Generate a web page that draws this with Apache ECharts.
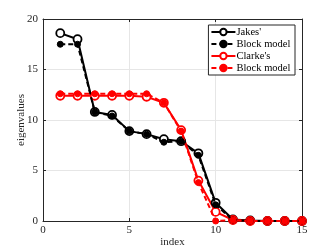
<!DOCTYPE html>
<html><head><meta charset="utf-8">
<script src="https://cdn.jsdelivr.net/npm/echarts@6/dist/echarts.min.js"></script>
<style>html,body{margin:0;padding:0;background:#fff}#c{width:333px;height:250px}</style>
</head><body><div id="c"></div>
<script>
var indices = [1,2,3,4,5,6,7,8,9,10,11,12,13,14,15];
var jakes = [18.6,18.0,10.8,10.5,8.9,8.6,8.1,7.9,6.7,1.8,0.15,0.05,0,0,0];
var jakesBlock = [17.5,17.5,10.8,10.4,8.9,8.6,7.8,7.9,6.5,1.6,0.1,0,0,0,0];
var clarke = [12.4,12.4,12.4,12.4,12.4,12.3,11.7,9.0,4.0,0.9,0.1,0,0,0,0];
var clarkeBlock = [12.6,12.6,12.6,12.6,12.6,12.6,11.7,8.9,3.8,0,0.1,0,0,0,0];
var xTicks = [0,5,10,15];
var yTicks = [0,5,10,15,20];
var names = ["Jakes'", "Block model", "Clarke's", "Block model "];

function pairs(arr){ return indices.map(function(x,i){return [x,arr[i]];}); }
var font = 'Liberation Serif';
var chart = echarts.init(document.getElementById('c'), null, {renderer:'canvas'});
function mkX(pos, show){
  return {type:'value', position:pos, min:0, max:15, interval:5,
    axisLine:{show:true,onZero:false,lineStyle:{color:'#262626',width:1}},
    axisTick:{show:true,inside:true,length:3,lineStyle:{color:'#262626'}},
    axisLabel:{show:show,color:'#262626',fontFamily:font,fontSize:11,margin:4},
    splitLine:{show:show,lineStyle:{color:'#e6e6e6',width:1}},
    name: show?'index':'', nameLocation:'middle', nameGap:16, nameMoveOverlap:false,
    nameTextStyle:{color:'#262626',fontFamily:font,fontSize:11}};
}
function mkY(pos, show){
  return {type:'value', position:pos, min:0, max:20, interval:5,
    axisLine:{show:true,onZero:false,lineStyle:{color:'#262626',width:1}},
    axisTick:{show:true,inside:true,length:3,lineStyle:{color:'#262626'}},
    axisLabel:{show:show,color:'#262626',fontFamily:font,fontSize:11,margin:5},
    splitLine:{show:show,lineStyle:{color:'#e6e6e6',width:1}},
    name: show?'eigenvalues':'', nameLocation:'middle', nameGap:16, nameMoveOverlap:false,
    nameTextStyle:{color:'#262626',fontFamily:font,fontSize:11}};
}
function ser(name, data, color, dashed, filled, size){
  return {name:name, type:'line', data:pairs(data), xAxisIndex:0, yAxisIndex:0,
    symbol:'circle', symbolSize:size, showAllSymbol:true,
    lineStyle:{color:color,width:2,type:dashed?[5,3]:'solid'},
    itemStyle:{color:filled?color:'#fff',borderColor:color,borderWidth:filled?1:1.8},
    emphasis:{disabled:true}, animation:false, z: filled?3:2};
}
chart.setOption({
  animation:false,
  grid:{left:43,right:31,top:19,bottom:29,containLabel:false,outerBoundsMode:'none'},
  xAxis:[mkX('bottom',true), mkX('top',false)],
  yAxis:[mkY('left',true), mkY('right',false)],
  legend:{show:true, right:38, top:25, orient:'vertical', itemGap:0, itemWidth:24, itemHeight:8,
    backgroundColor:'#fff', borderColor:'#262626', borderWidth:1, padding:[1,2,1,2],
    textStyle:{color:'#000',fontFamily:font,fontSize:10.5,padding:[0,0,0,-4],lineHeight:12},
    data:names},
  series:[
    ser(names[0], jakes, '#000', false, false, 8),
    ser(names[1], jakesBlock, '#000', true, true, 6),
    ser(names[2], clarke, '#ff0000', false, false, 8),
    ser(names[3], clarkeBlock, '#ff0000', true, true, 6)
  ]
});
</script></body></html>
